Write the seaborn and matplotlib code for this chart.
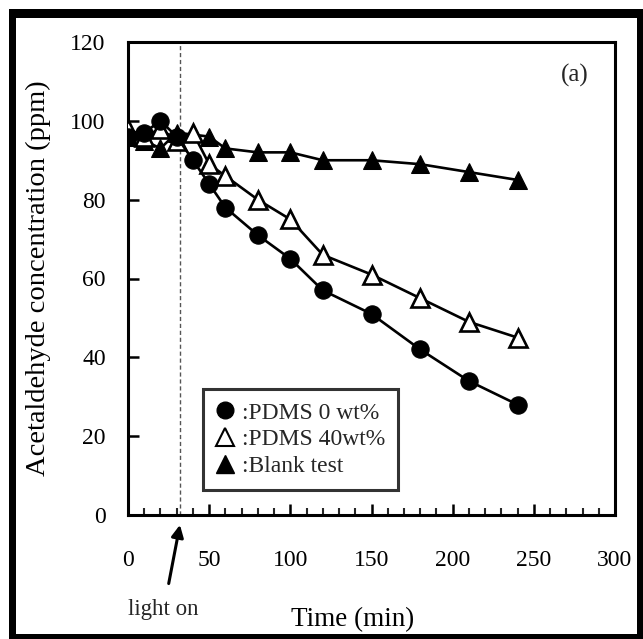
import numpy as np
import pandas as pd
import matplotlib
matplotlib.use('Agg')
import matplotlib.pyplot as plt
import seaborn as sns
from matplotlib.lines import Line2D
from matplotlib.patches import Rectangle

# ---- data ----
time_pdms0 = [0, 10, 20, 30, 40, 50, 60, 80, 100, 120, 150, 180, 210, 240]
conc_pdms0 = [96, 97, 100, 96, 90, 84, 78, 71, 65, 57, 51, 42, 34, 28]
time_pdms40 = [0, 10, 20, 30, 40, 50, 60, 80, 100, 120, 150, 180, 210, 240]
conc_pdms40 = [98, 96, 98, 95, 97, 89, 86, 80, 75, 66, 61, 55, 49, 45]
time_blank = [0, 10, 20, 30, 50, 60, 80, 100, 120, 150, 180, 210, 240]
conc_blank = [96, 95, 93, 97, 96, 93, 92, 92, 90, 90, 89, 87, 85]
series_labels = [':PDMS 0 wt%', ':PDMS 40wt%', ':Blank test']
light_on_time = 32
xticks = [0, 50, 100, 150, 200, 250, 300]
yticks = [0, 20, 40, 60, 80, 100, 120]

W, H, DPI = 643, 639, 100
sns.set_theme(style='white')
plt.rcParams['font.family'] = ['Liberation Serif', 'DejaVu Serif']

fig = plt.figure(figsize=(W / DPI, H / DPI), dpi=DPI)
fig.patch.set_facecolor('white')
ax = fig.add_axes([128 / W, (H - 515) / H, (615 - 128) / W, (515 - 42) / H])

df0 = pd.DataFrame({'t': time_pdms0, 'c': conc_pdms0})
df40 = pd.DataFrame({'t': time_pdms40, 'c': conc_pdms40})
dfb = pd.DataFrame({'t': time_blank, 'c': conc_blank})

lw = 1.9
sns.lineplot(data=dfb, x='t', y='c', ax=ax, color='black', lw=lw, marker='^',
             markersize=13.5, markerfacecolor='black', markeredgecolor='black', zorder=3)
sns.lineplot(data=df40, x='t', y='c', ax=ax, color='black', lw=lw, marker='^',
             markersize=13.5, markerfacecolor='white', markeredgecolor='black',
             markeredgewidth=1.9, zorder=4)
sns.lineplot(data=df0, x='t', y='c', ax=ax, color='black', lw=lw, marker='o',
             markersize=12.5, markerfacecolor='black', markeredgecolor='black', zorder=5)

ax.axvline(light_on_time, color='#555555', lw=1.0, ls=(0, (3, 2)), zorder=1)

ax.set_xlim(0, 300)
ax.set_ylim(0, 120)
ax.set_xticks(xticks)
ax.set_xticks(np.arange(0, 301, 10), minor=True)
ax.set_yticks(yticks)
ax.set_xticklabels([str(v) for v in xticks])
ax.set_yticklabels([str(v) for v in yticks])
ax.tick_params(axis='x', which='major', direction='in', length=8, width=1.8,
               labelsize=17, pad=25, colors='black', bottom=True, top=False)
ax.tick_params(axis='x', which='minor', direction='in', length=5, width=1.5,
               bottom=True, top=False)
ax.tick_params(axis='y', which='major', direction='in', length=8, width=1.8,
               labelsize=17, pad=16, colors='black', left=True, right=False)
for s in ax.spines.values():
    s.set_visible(True)
    s.set_color('black')
    s.set_linewidth(2.2)

ax.set_xlabel('Time (min)', fontsize=19.5, color='black', va='center')
ax.xaxis.set_label_coords(0.461, -0.222)
ax.set_ylabel('Acetaldehyde concentration (ppm)', fontsize=20.5, color='black', labelpad=14)

ax.text(0.945, 0.93, '(a)', transform=ax.transAxes, fontsize=18, ha='right', va='center')

# light on annotation
ax.annotate('light on', xy=(light_on_time, -2.5), xytext=(22, -24),
            textcoords='data', ha='center', va='center', fontsize=16.5,
            annotation_clip=False,
            arrowprops=dict(arrowstyle='-|>', color='black', lw=2.2,
                            mutation_scale=18, shrinkA=9, shrinkB=0))

handles = [
    Line2D([], [], ls='none', marker='o', ms=12, mfc='black', mec='black'),
    Line2D([], [], ls='none', marker='^', ms=12.5, mfc='white', mec='black', mew=1.5),
    Line2D([], [], ls='none', marker='^', ms=12.5, mfc='black', mec='black'),
]
leg = ax.legend(handles, series_labels, loc='lower left', bbox_to_anchor=(0.154, 0.053),
                frameon=True, fancybox=False, edgecolor='black', fontsize=17,
                handlelength=0.8, handletextpad=0.3, labelspacing=0.22,
                borderpad=0.55, borderaxespad=0)
leg.get_frame().set_linewidth(2.2)

# outer black border of the picture
for (x0, y0, w, h) in [(9, 9, 7, 630), (9, 9, 634, 9), (637, 9, 6, 630), (9, 634, 634, 5)]:
    fig.add_artist(Rectangle((x0 / W, 1 - (y0 + h) / H), w / W, h / H,
                             transform=fig.transFigure, facecolor='black',
                             edgecolor='none', zorder=10))

fig.savefig('out.png', dpi=DPI, facecolor='white')
